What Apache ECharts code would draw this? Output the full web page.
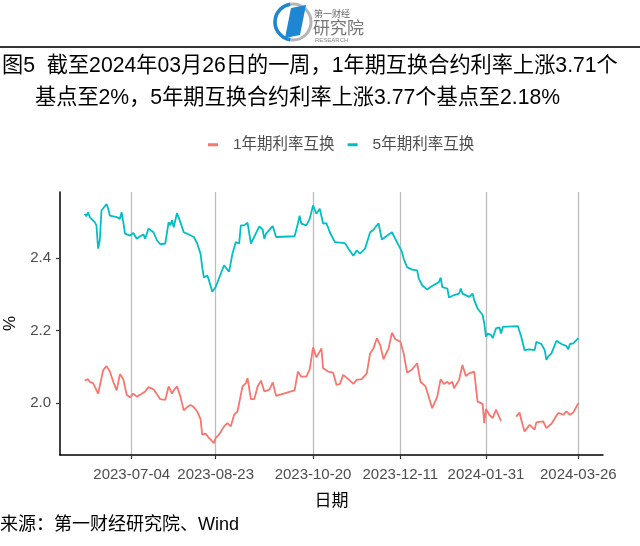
<!DOCTYPE html>
<html><head><meta charset="utf-8">
<script src="https://cdn.jsdelivr.net/npm/echarts@6/dist/echarts.min.js"></script>
<style>html,body{margin:0;padding:0;background:#fff}#c{width:640px;height:546px}</style>
</head><body><div id="c"></div>
<script>
const seriesNames = ['1年期利率互换', '5年期利率互换'];
const titleLine1 = '图5  截至2024年03月26日的一周，1年期互换合约利率上涨3.71个';
const titleLine2 = '基点至2%，5年期互换合约利率上涨3.77个基点至2.18%';
const sourceText = '来源：第一财经研究院、Wind';
const xAxisName = '日期';
const yAxisName = '%';
const xTickLabels = ['2023-07-04', '2023-08-23', '2023-10-20', '2023-12-11', '2024-01-31', '2024-03-26'];
const yTicks = [2.0, 2.2, 2.4];

const dates1y = [
  '2023-06-06','2023-06-08','2023-06-09','2023-06-11','2023-06-12','2023-06-14','2023-06-15','2023-06-17','2023-06-19','2023-06-21','2023-06-23','2023-06-25','2023-06-27','2023-06-29',
  '2023-07-01','2023-07-03','2023-07-05','2023-07-07','2023-07-10','2023-07-12','2023-07-14','2023-07-17','2023-07-21','2023-07-24','2023-07-26','2023-07-28','2023-07-29','2023-07-31',
  '2023-08-02','2023-08-04','2023-08-06','2023-08-08','2023-08-10','2023-08-12','2023-08-14','2023-08-15','2023-08-17','2023-08-19','2023-08-22','2023-08-23','2023-08-24','2023-08-25','2023-08-28','2023-08-30',
  '2023-09-01','2023-09-03','2023-09-05','2023-09-08','2023-09-10','2023-09-11','2023-09-13','2023-09-15','2023-09-17','2023-09-19','2023-09-21','2023-09-24','2023-09-26','2023-09-28',
  '2023-10-09','2023-10-11','2023-10-13','2023-10-16','2023-10-18','2023-10-20','2023-10-22','2023-10-25','2023-10-26','2023-10-29',
  '2023-11-01','2023-11-03','2023-11-05','2023-11-07','2023-11-10','2023-11-13','2023-11-15','2023-11-18','2023-11-21','2023-11-23','2023-11-25','2023-11-27','2023-11-29',
  '2023-12-01','2023-12-04','2023-12-06','2023-12-08','2023-12-11','2023-12-13','2023-12-15','2023-12-18','2023-12-21','2023-12-23','2023-12-26','2023-12-30',
  '2024-01-02','2024-01-04','2024-01-06','2024-01-08','2024-01-09','2024-01-11','2024-01-12','2024-01-15','2024-01-17','2024-01-19','2024-01-21','2024-01-24','2024-01-26','2024-01-29','2024-01-30','2024-01-31',
  '2024-02-02','2024-02-04','2024-02-06','2024-02-09','2024-02-14','2024-02-18','2024-02-20','2024-02-21','2024-02-23','2024-02-26','2024-02-29',
  '2024-03-01','2024-03-05','2024-03-07','2024-03-10','2024-03-14','2024-03-17','2024-03-19','2024-03-21','2024-03-23','2024-03-26'
];
const rate1y = [
  2.062,2.066,2.059,2.055,2.050,2.026,2.026,2.091,2.102,2.087,2.059,2.035,2.080,2.066,
  2.023,2.016,2.026,2.018,2.026,2.032,2.044,2.038,2.011,2.009,2.046,2.026,2.035,2.046,
  2.018,1.980,1.989,1.995,1.989,1.977,1.956,1.913,1.916,1.904,1.890,1.904,1.901,1.913,1.936,1.945,
  1.936,1.968,1.977,2.046,2.055,2.069,2.011,2.011,2.046,2.062,2.032,2.037,2.057,2.020,
  2.035,2.087,2.073,2.073,2.093,2.154,2.126,2.151,2.096,2.087,
  2.084,2.050,2.053,2.078,2.066,2.053,2.064,2.066,2.082,2.137,2.151,2.179,2.160,
  2.121,2.151,2.194,2.176,2.169,2.137,2.084,2.093,2.110,2.059,2.046,1.986,
  2.018,2.066,2.053,2.059,2.053,2.059,2.041,2.064,2.105,2.075,2.082,2.087,2.004,1.998,1.945,1.984,
  1.968,1.959,1.982,1.950,null,1.963,1.974,1.954,1.922,1.940,1.927,
  1.947,1.950,1.931,1.943,1.973,1.968,1.977,1.968,1.974,2.000
];

const dates5y = [
  '2023-06-06','2023-06-07','2023-06-08','2023-06-09','2023-06-12','2023-06-13','2023-06-14','2023-06-15','2023-06-16','2023-06-19','2023-06-20','2023-06-21','2023-06-25','2023-06-27','2023-06-28','2023-06-29','2023-06-30',
  '2023-07-03','2023-07-05','2023-07-07','2023-07-09','2023-07-11','2023-07-12','2023-07-14','2023-07-17','2023-07-19','2023-07-20','2023-07-21','2023-07-24','2023-07-26','2023-07-27','2023-07-28','2023-07-29','2023-07-31',
  '2023-08-02','2023-08-04','2023-08-07','2023-08-10','2023-08-12','2023-08-14','2023-08-15','2023-08-16','2023-08-18','2023-08-19','2023-08-21','2023-08-23','2023-08-24','2023-08-28','2023-08-30','2023-08-31',
  '2023-09-02','2023-09-04','2023-09-06','2023-09-07','2023-09-09','2023-09-11','2023-09-13','2023-09-14','2023-09-18','2023-09-20','2023-09-21','2023-09-22','2023-09-26','2023-09-28',
  '2023-10-09','2023-10-11','2023-10-12','2023-10-13','2023-10-16','2023-10-18','2023-10-20','2023-10-22','2023-10-24','2023-10-26','2023-10-28','2023-10-30',
  '2023-11-02','2023-11-08','2023-11-10','2023-11-13','2023-11-15','2023-11-17','2023-11-20','2023-11-23','2023-11-25','2023-11-28','2023-11-30',
  '2023-12-02','2023-12-06','2023-12-09','2023-12-12','2023-12-13','2023-12-15','2023-12-18','2023-12-21','2023-12-22','2023-12-24','2023-12-27','2023-12-29',
  '2024-01-03','2024-01-04','2024-01-05','2024-01-08','2024-01-09','2024-01-12','2024-01-15','2024-01-16','2024-01-17','2024-01-21','2024-01-23','2024-01-24','2024-01-26','2024-01-29','2024-01-30','2024-01-31',
  '2024-02-01','2024-02-03','2024-02-04','2024-02-06','2024-02-08','2024-02-09','2024-02-10','2024-02-19','2024-02-21','2024-02-23','2024-02-26','2024-02-29',
  '2024-03-01','2024-03-04','2024-03-06','2024-03-07','2024-03-08','2024-03-10','2024-03-13','2024-03-16','2024-03-19','2024-03-20','2024-03-21','2024-03-23','2024-03-26'
];
const rate5y = [
  2.522,2.515,2.526,2.513,2.499,2.490,2.426,2.449,2.531,2.549,2.536,2.517,2.513,2.508,2.526,2.499,2.467,
  2.462,2.469,2.453,2.460,2.465,2.453,2.481,2.471,2.449,2.453,2.438,2.440,2.499,2.490,2.504,2.485,2.524,
  2.499,2.471,2.465,2.458,2.440,2.412,2.375,2.346,2.352,2.339,2.307,2.320,2.325,2.380,2.368,2.362,
  2.412,2.444,2.440,2.490,2.490,2.497,2.440,2.444,2.487,2.478,2.453,2.467,2.488,2.458,
  2.460,2.495,2.517,2.495,2.490,2.508,2.545,2.522,2.536,2.495,2.496,2.471,
  2.444,2.441,2.426,2.406,2.421,2.412,2.426,2.471,2.478,2.496,2.451,
  2.458,2.471,2.444,2.417,2.398,2.375,2.368,2.366,2.343,2.325,2.313,2.320,
  2.334,2.346,2.320,2.316,2.291,2.298,2.302,2.316,2.302,2.293,2.302,2.284,2.261,2.243,2.220,2.183,
  2.192,2.188,2.179,2.206,2.209,2.192,2.210,2.212,2.183,2.146,2.148,2.146,
  2.169,2.163,2.146,2.119,2.128,2.137,2.172,2.163,2.157,2.148,2.163,2.165,2.179
];

function toTs(s) {
  const p = s.split('-').map(Number);
  return new Date(p[0], p[1] - 1, p[2]).getTime();
}
function fmtDate(v) {
  const d = new Date(v);
  const mm = String(d.getMonth() + 1).padStart(2, '0');
  const dd = String(d.getDate()).padStart(2, '0');
  return d.getFullYear() + '-' + mm + '-' + dd;
}
function pairs(dates, vals) {
  return dates.map((d, i) => [toTs(d), vals[i] == null ? '-' : vals[i]]);
}

const xMin = new Date(2023, 4, 22, 7).getTime();
const xMax = new Date(2024, 3, 9, 17).getTime();
const xTickTs = xTickLabels.map(toTs);
const latin = '"Liberation Sans", "Noto Sans CJK SC", sans-serif';

const chart = echarts.init(document.getElementById('c'), null, { renderer: 'canvas' });
chart.setOption({
  animation: false,
  backgroundColor: '#ffffff',
  textStyle: { fontFamily: latin },
  grid: { left: 60, right: 37, top: 192, bottom: 91, outerBoundsMode: 'none' },
  legend: {
    data: seriesNames,
    left: 203, top: 132,
    itemWidth: 10, itemHeight: 3, itemGap: 13,
    icon: 'rect',
    textStyle: { fontSize: 15.5, color: '#4d4d4d', fontFamily: latin, padding: [0, 0, 0, 10] }
  },
  xAxis: {
    type: 'value', min: xMin, max: xMax, scale: true,
    name: xAxisName, nameLocation: 'middle', nameGap: 38,
    nameTextStyle: { fontSize: 17, color: '#000', fontFamily: latin },
    axisLine: { show: true, lineStyle: { color: '#000', width: 1.5 } },
    axisTick: { show: true, customValues: xTickTs, length: 4, lineStyle: { color: '#333', width: 1.2 } },
    axisLabel: {
      customValues: xTickTs, margin: 12, fontSize: 15, color: '#4d4d4d', hideOverlap: false,
      formatter: v => fmtDate(v)
    },
    splitLine: { show: true, lineStyle: { color: '#bdbdbd', width: 1.3 } }
  },
  yAxis: {
    type: 'value', min: 1.857, max: 2.582,
    name: yAxisName, nameLocation: 'middle', nameGap: 41, nameRotate: 90,
    nameTextStyle: { fontSize: 17, color: '#000', fontFamily: latin },
    axisLine: { show: true, lineStyle: { color: '#000', width: 1.5 } },
    axisTick: { show: true, customValues: yTicks, length: 4, lineStyle: { color: '#333', width: 1.2 } },
    axisLabel: { customValues: yTicks, margin: 9, fontSize: 15, color: '#4d4d4d', formatter: v => v.toFixed(1) },
    splitLine: { show: false }
  },
  series: [
    { name: seriesNames[0], type: 'line', data: pairs(dates1y, rate1y), showSymbol: false, symbol: 'none',
      connectNulls: false, lineStyle: { color: '#F8766D', width: 1.8 }, itemStyle: { color: '#F8766D' } },
    { name: seriesNames[1], type: 'line', data: pairs(dates5y, rate5y), showSymbol: false, symbol: 'none',
      lineStyle: { color: '#00BFC4', width: 1.8 }, itemStyle: { color: '#00BFC4' } }
  ],
  graphic: [
    { type: 'circle', shape: { cx: 293, cy: 22, r: 18 }, style: { fill: 'none', stroke: '#b5b5b5', lineWidth: 3 } },
    { type: 'arc', shape: { cx: 293, cy: 22, r: 18, startAngle: Math.PI * 0.55, endAngle: Math.PI * 1.45 }, style: { fill: 'none', stroke: '#1f86d4', lineWidth: 3.5 } },
    { type: 'polygon', shape: { points: [[291, 8], [306, 5], [300, 35], [285, 38]] }, style: { fill: '#1f86d4' } },
    { type: 'text', style: { text: '第一财经', x: 314, y: 14, fontSize: 9, fill: '#666', verticalAlign: 'middle', fontFamily: '"Noto Sans CJK SC"' } },
    { type: 'text', style: { text: '研究院', x: 313, y: 28, fontSize: 17, fill: '#777', verticalAlign: 'middle', fontFamily: '"Noto Sans CJK SC"' } },
    { type: 'text', style: { text: 'RESEARCH', x: 315, y: 40, fontSize: 6, fill: '#888', verticalAlign: 'middle', fontFamily: latin } },
    { type: 'line', shape: { x1: 0, y1: 47, x2: 640, y2: 47 }, style: { stroke: '#333', lineWidth: 2 } },
    { type: 'text', style: { text: titleLine1, x: 2, y: 66, fontSize: 21.2, fill: '#000', verticalAlign: 'middle', fontFamily: latin } },
    { type: 'text', style: { text: titleLine2, x: 35, y: 98, fontSize: 21.2, fill: '#000', verticalAlign: 'middle', fontFamily: latin } },
    { type: 'text', style: { text: sourceText, x: 0, y: 525, fontSize: 18, fill: '#000', verticalAlign: 'middle', fontFamily: latin } }
  ]
});
</script>
</body></html>
